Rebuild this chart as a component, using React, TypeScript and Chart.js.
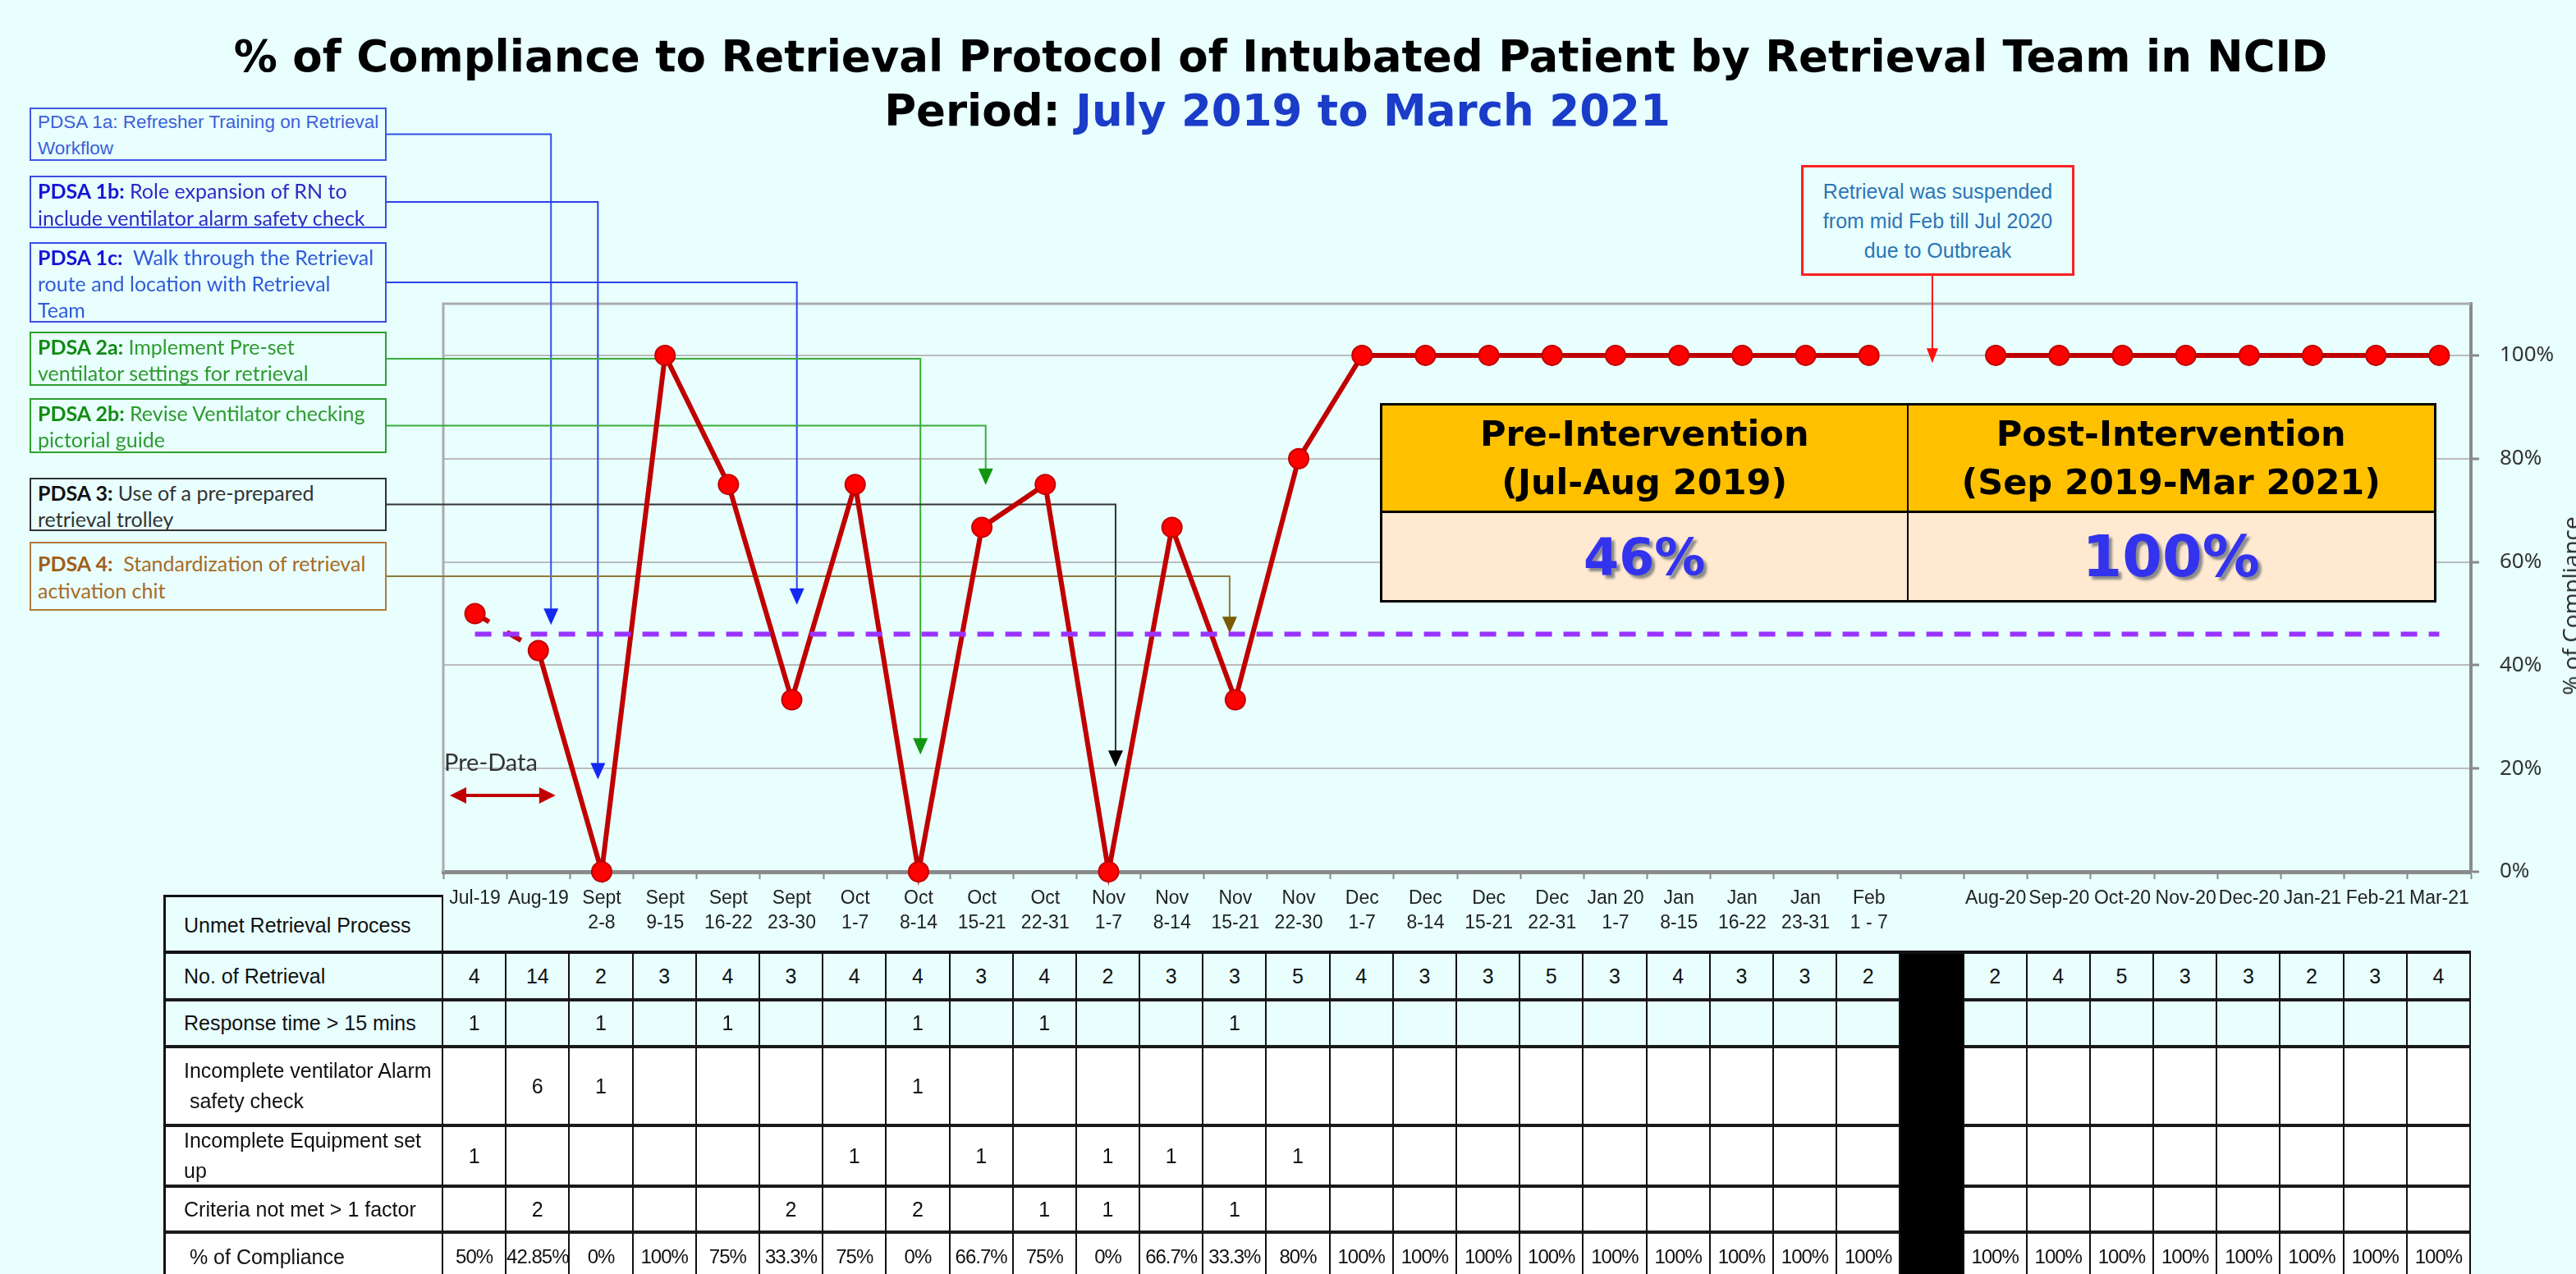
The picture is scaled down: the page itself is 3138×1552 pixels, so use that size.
import React, { useEffect, useRef } from 'react';
import { Chart, registerables } from 'chart.js';

Chart.register(...registerables);

const W = 3138;
const H = 1552;
const BG = '#E8FFFE';
const PLOT_LEFT = 540;
const PLOT_TOP = 370;
const PLOT_BOTTOM = 1062;
const Y_AXIS_W = 128;

const X_LABELS: string[][] = [
  ['Jul-19'], ['Aug-19'], ['Sept', '2-8'], ['Sept', '9-15'], ['Sept', '16-22'], ['Sept', '23-30'],
  ['Oct', '1-7'], ['Oct', '8-14'], ['Oct', '15-21'], ['Oct', '22-31'],
  ['Nov', '1-7'], ['Nov', '8-14'], ['Nov', '15-21'], ['Nov', '22-30'],
  ['Dec', '1-7'], ['Dec', '8-14'], ['Dec', '15-21'], ['Dec', '22-31'],
  ['Jan 20', '1-7'], ['Jan', '8-15'], ['Jan', '16-22'], ['Jan', '23-31'], ['Feb', '1 - 7'],
  [''],
  ['Aug-20'], ['Sep-20'], ['Oct-20'], ['Nov-20'], ['Dec-20'], ['Jan-21'], ['Feb-21'], ['Mar-21'],
];
const GAP_INDEX = 23;

const COMPLIANCE: (number | null)[] = [
  50, 42.85, 0, 100, 75, 33.3, 75, 0, 66.7, 75, 0, 66.7, 33.3, 80,
  100, 100, 100, 100, 100, 100, 100, 100, 100,
  null,
  100, 100, 100, 100, 100, 100, 100, 100,
];
const PRE_MEAN = 46;
const PRE_LABEL = '46%';
const POST_LABEL = '100%';
const Y_MAX_LABELLED = 100;

const NO_OF_RETRIEVAL = [4, 14, 2, 3, 4, 3, 4, 4, 3, 4, 2, 3, 3, 5, 4, 3, 3, 5, 3, 4, 3, 3, 2, null, 2, 4, 5, 3, 3, 2, 3, 4];
const RESPONSE_GT15 = [1, null, 1, null, 1, null, null, 1, null, 1, null, null, 1, null, null, null, null, null, null, null, null, null, null, null, null, null, null, null, null, null, null, null];
const VENT_ALARM = [null, 6, 1, null, null, null, null, 1, null, null, null, null, null, null, null, null, null, null, null, null, null, null, null, null, null, null, null, null, null, null, null, null];
const EQUIPMENT = [1, null, null, null, null, null, 1, null, 1, null, 1, 1, null, 1, null, null, null, null, null, null, null, null, null, null, null, null, null, null, null, null, null, null];
const CRITERIA_GT1 = [null, 2, null, null, null, 2, null, 2, null, 1, 1, null, 1, null, null, null, null, null, null, null, null, null, null, null, null, null, null, null, null, null, null, null];

const PDSA_NOTES = [
  { id: '1a', head: 'PDSA 1a:', bold: false, lines: [' Refresher Training on Retrieval', 'Workflow'], top: 131, height: 65, border: '#4058E0', headColor: '#3D5FD9', color: '#3D5FD9', font: "'Liberation Sans', Arial, sans-serif", size: 22.5, lh: 32, padTop: 0, at: 1.2, tip: 47.8, line: '#3050E8', arrow: '#1428F0' },
  { id: '1b', head: 'PDSA 1b:', bold: true, lines: [' Role expansion of RN to', 'include ventilator alarm safety check'], top: 214, height: 64, border: '#3B4FE0', headColor: '#1414D4', color: '#2B2BC4', font: 'Lato, sans-serif', size: 25, lh: 33, padTop: 0, at: 1.94, tip: 17.9, line: '#2C40EE', arrow: '#1428F0' },
  { id: '1c', head: 'PDSA 1c:', bold: true, lines: ['  Walk through the Retrieval', 'route and location with Retrieval', 'Team'], top: 295, height: 98, border: '#3B4FE0', headColor: '#1414D4', color: '#2F5BD6', font: 'Lato, sans-serif', size: 25, lh: 32, padTop: 0, at: 5.08, tip: 51.7, line: '#2C40EE', arrow: '#1428F0' },
  { id: '2a', head: 'PDSA 2a:', bold: true, lines: [' Implement Pre-set', 'ventilator settings for retrieval'], top: 404, height: 66, border: '#2EA02E', headColor: '#128A12', color: '#2E9A2E', font: 'Lato, sans-serif', size: 25, lh: 32, padTop: 0, at: 7.03, tip: 22.7, line: '#3AAA3A', arrow: '#109610' },
  { id: '2b', head: 'PDSA 2b:', bold: true, lines: [' Revise Ventilator checking', 'pictorial guide'], top: 485, height: 67, border: '#2EA02E', headColor: '#128A12', color: '#2E9A2E', font: 'Lato, sans-serif', size: 25, lh: 32, padTop: 0, at: 8.06, tip: 74.9, line: '#3AAA3A', arrow: '#109610' },
  { id: '3', head: 'PDSA 3:', bold: true, lines: [' Use of a pre-prepared', 'retrieval trolley'], top: 582, height: 65, border: '#333333', headColor: '#111111', color: '#333333', font: 'Lato, sans-serif', size: 25, lh: 32, padTop: 0, at: 10.11, tip: 20.3, line: '#333333', arrow: '#000000' },
  { id: '4', head: 'PDSA 4:', bold: true, lines: ['  Standardization of retrieval', 'activation chit'], top: 660, height: 84, border: '#B07A3A', headColor: '#A05E18', color: '#A86A24', font: 'Lato, sans-serif', size: 25, lh: 33, padTop: 8, at: 11.91, tip: 46.2, line: '#8C7A3A', arrow: '#7A5A00' },
];
const BOX_LEFT = 36;
const BOX_W = 435;

const SUSPEND_BOX = { left: 2194, top: 201, width: 333, height: 135 };

const overlayPlugin = {
  id: 'overlays',
  beforeDatasetsDraw(chart: any) {
    const { ctx, chartArea: a, scales } = chart;
    const xs = scales.x;
    const ys = scales.y;
    ctx.save();
    // frame
    ctx.strokeStyle = '#ABABAB';
    ctx.lineWidth = 3;
    ctx.beginPath();
    ctx.moveTo(a.left, a.bottom);
    ctx.lineTo(a.left, a.top);
    ctx.lineTo(a.right, a.top);
    ctx.stroke();

    // PDSA connectors
    for (const p of PDSA_NOTES) {
      const px = xs.getPixelForValue(p.at);
      const py = ys.getPixelForValue(p.tip);
      const sy = p.top + p.height / 2;
      ctx.strokeStyle = p.line;
      ctx.lineWidth = 2;
      ctx.beginPath();
      ctx.moveTo(BOX_LEFT + BOX_W, sy);
      ctx.lineTo(px, sy);
      ctx.lineTo(px, py - 18);
      ctx.stroke();
      ctx.fillStyle = p.arrow;
      ctx.beginPath();
      ctx.moveTo(px - 9, py - 20);
      ctx.lineTo(px + 9, py - 20);
      ctx.lineTo(px, py);
      ctx.closePath();
      ctx.fill();
    }

    // suspension arrow
    const gx = xs.getPixelForValue(GAP_INDEX);
    const gy = ys.getPixelForValue(98.5);
    ctx.strokeStyle = '#FF1010';
    ctx.lineWidth = 2;
    ctx.beginPath();
    ctx.moveTo(gx, SUSPEND_BOX.top + SUSPEND_BOX.height);
    ctx.lineTo(gx, gy - 16);
    ctx.stroke();
    ctx.fillStyle = '#FF1010';
    ctx.beginPath();
    ctx.moveTo(gx - 7, gy - 18);
    ctx.lineTo(gx + 7, gy - 18);
    ctx.lineTo(gx, gy);
    ctx.closePath();
    ctx.fill();

    // pre-data double arrow
    const ay = ys.getPixelForValue(14.8);
    const x1 = a.left + 8;
    const x2 = xs.getPixelForValue(1) + 21;
    ctx.strokeStyle = '#C00000';
    ctx.fillStyle = '#C00000';
    ctx.lineWidth = 4;
    ctx.beginPath();
    ctx.moveTo(x1 + 14, ay);
    ctx.lineTo(x2 - 14, ay);
    ctx.stroke();
    ctx.beginPath();
    ctx.moveTo(x1, ay);
    ctx.lineTo(x1 + 20, ay - 10);
    ctx.lineTo(x1 + 20, ay + 10);
    ctx.closePath();
    ctx.fill();
    ctx.beginPath();
    ctx.moveTo(x2, ay);
    ctx.lineTo(x2 - 20, ay - 10);
    ctx.lineTo(x2 - 20, ay + 10);
    ctx.closePath();
    ctx.fill();
    ctx.restore();
  },
};

const TABLE_ROWS = [
  { label: ['No. of Retrieval'], values: NO_OF_RETRIEVAL.map((v) => (v == null ? '' : String(v))), height: 58, bg: BG, size: 25, ls: 0 },
  { label: ['Response time > 15 mins'], values: RESPONSE_GT15.map((v) => (v == null ? '' : String(v))), height: 57, bg: BG, size: 25, ls: 0 },
  { label: ['Incomplete ventilator Alarm', ' safety check'], values: VENT_ALARM.map((v) => (v == null ? '' : String(v))), height: 96, bg: '#FFFFFF', size: 25, ls: 0 },
  { label: ['Incomplete Equipment set', 'up'], values: EQUIPMENT.map((v) => (v == null ? '' : String(v))), height: 74, bg: '#FFFFFF', size: 25, ls: 0 },
  { label: ['Criteria not met > 1 factor'], values: CRITERIA_GT1.map((v) => (v == null ? '' : String(v))), height: 56, bg: '#FFFFFF', size: 25, ls: 0 },
  { label: [' % of Compliance'], values: COMPLIANCE.map((v) => (v == null ? '' : `${v}%`)), height: 60, bg: '#FFFFFF', size: 24, ls: -1 },
];

const NARROW = "'Liberation Sans', Arial, sans-serif";
const BOLDWIDE = "'DejaVu Sans', Verdana, sans-serif";

export default function App() {
  const ref = useRef<HTMLCanvasElement>(null);

  useEffect(() => {
    const canvas = ref.current;
    if (!canvas) return;
    const chart = new Chart(canvas, {
      type: 'line',
      data: {
        labels: X_LABELS as any,
        datasets: [
          {
            label: 'Pre-intervention mean',
            data: X_LABELS.map(() => PRE_MEAN),
            borderColor: '#9933FF',
            borderWidth: 6,
            borderDash: [20, 14],
            pointRadius: 0,
            fill: false,
            order: 0,
            clip: false as any,
          },
          {
            label: '% of Compliance',
            data: COMPLIANCE,
            borderColor: '#C00000',
            borderWidth: 6,
            pointRadius: 12,
            pointBackgroundColor: '#FF0000',
            pointBorderColor: '#C00000',
            pointBorderWidth: 2,
            spanGaps: false,
            fill: false,
            order: 1,
            clip: false as any,
            segment: {
              borderDash: (ctx: any) => (ctx.p0DataIndex === 0 ? [20, 25] : undefined),
            },
          },
        ],
      },
      options: {
        responsive: false,
        animation: false,
        devicePixelRatio: 1,
        layout: { padding: { left: PLOT_LEFT, top: PLOT_TOP, right: 0, bottom: 0 } },
        plugins: {
          legend: { display: false },
          tooltip: { enabled: false },
          title: { display: false },
        },
        scales: {
          x: {
            type: 'category',
            offset: true,
            grid: { drawOnChartArea: false, tickLength: 9, tickColor: '#888888', tickWidth: 2, offset: true },
            border: { color: '#8A8A8A', width: 5 },
            ticks: {
              autoSkip: false,
              maxRotation: 0,
              minRotation: 0,
              color: '#222222',
              padding: 9,
              font: { family: NARROW, size: 23, lineHeight: 1.3 },
            },
            afterFit: (s: any) => {
              s.height = H - PLOT_BOTTOM;
            },
          },
          y: {
            position: 'right',
            min: 0,
            max: 110,
            bounds: 'data',
            ticks: {
              stepSize: 20,
              includeBounds: false,
              color: '#333333',
              padding: 25,
              font: { family: "'Noto Sans', sans-serif", size: 26 },
              callback: (v: any) => (v <= Y_MAX_LABELLED ? `${v}%` : ''),
            },
            grid: {
              color: '#BBBBBB',
              lineWidth: 2,
              tickLength: 10,
              tickWidth: 3,
              tickColor: (c: any) => (c.tick && c.tick.value > Y_MAX_LABELLED ? 'rgba(0,0,0,0)' : '#888888'),
            },
            border: { color: '#8A8A8A', width: 4 },
            afterFit: (s: any) => {
              s.width = Y_AXIS_W;
            },
          },
        },
      } as any,
      plugins: [overlayPlugin],
    });
    return () => chart.destroy();
  }, []);

  const plotRight = W - Y_AXIS_W;
  const cw = (plotRight - PLOT_LEFT) / X_LABELS.length;
  const labelColW = PLOT_LEFT - 202;

  return (
    <div style={{ position: 'absolute', left: 0, top: 0, width: W, height: H, overflow: 'hidden', background: BG }}>
      <canvas ref={ref} width={W} height={H} style={{ position: 'absolute', left: 0, top: 0, width: W, height: H }} />

      {/* Title */}
      <div style={{ position: 'absolute', left: 0, width: 3120, top: 37, textAlign: 'center', fontFamily: BOLDWIDE, fontWeight: 'bold', fontSize: 53, lineHeight: '64px', color: '#000', whiteSpace: 'nowrap' }}>
        % of Compliance to Retrieval Protocol of Intubated Patient by Retrieval Team in NCID
      </div>
      <div style={{ position: 'absolute', left: 0, width: 3112, top: 103, textAlign: 'center', fontFamily: BOLDWIDE, fontWeight: 'bold', fontSize: 53, lineHeight: '64px', color: '#000', whiteSpace: 'nowrap' }}>
        Period: <span style={{ color: '#1A3CC8' }}>July 2019 to March 2021</span>
      </div>

      {/* PDSA notes */}
      {PDSA_NOTES.map((p) => (
        <div
          key={p.id}
          style={{
            position: 'absolute', left: BOX_LEFT, top: p.top, width: BOX_W, height: p.height, boxSizing: 'border-box',
            border: `2px solid ${p.border}`, padding: `${p.padTop}px 0 0 8px`, fontFamily: p.font, fontSize: p.size,
            lineHeight: `${p.lh}px`, color: p.color, background: BG, overflow: 'hidden',
          }}
        >
          {p.lines.map((ln, i) => (
            <div key={i} style={{ whiteSpace: 'pre' }}>
              {i === 0 ? <span style={{ fontWeight: p.bold ? 'bold' : 'normal', color: p.headColor }}>{p.head}</span> : null}
              {ln}
            </div>
          ))}
        </div>
      ))}

      {/* Suspension note */}
      <div style={{ position: 'absolute', left: SUSPEND_BOX.left, top: SUSPEND_BOX.top, width: SUSPEND_BOX.width, height: SUSPEND_BOX.height, boxSizing: 'border-box', border: '3px solid #FF2020', background: BG, display: 'flex', flexDirection: 'column', justifyContent: 'center', alignItems: 'center', fontFamily: NARROW, fontSize: 25, lineHeight: '36px', color: '#2E75B6' }}>
        <div>Retrieval was suspended</div>
        <div>from mid Feb till Jul 2020</div>
        <div>due to Outbreak</div>
      </div>

      {/* Pre-Data */}
      <div style={{ position: 'absolute', left: 541, top: 910, fontFamily: 'Lato, sans-serif', fontSize: 29, color: '#333', lineHeight: '36px' }}>Pre-Data</div>

      {/* Intervention summary */}
      <div style={{ position: 'absolute', left: 1681, top: 491, width: 1287, height: 243, boxSizing: 'border-box', border: '3px solid #000', display: 'grid', gridTemplateColumns: '1fr 1fr', gridTemplateRows: '131px 1fr' }}>
        <div style={{ background: '#FFC000', borderRight: '2px solid #000', borderBottom: '3px solid #000', display: 'flex', flexDirection: 'column', justifyContent: 'center', alignItems: 'center', fontFamily: BOLDWIDE, fontWeight: 'bold', fontSize: 43, lineHeight: '59px', color: '#000' }}>
          <div>Pre-Intervention</div>
          <div>(Jul-Aug 2019)</div>
        </div>
        <div style={{ background: '#FFC000', borderBottom: '3px solid #000', display: 'flex', flexDirection: 'column', justifyContent: 'center', alignItems: 'center', fontFamily: BOLDWIDE, fontWeight: 'bold', fontSize: 43, lineHeight: '59px', color: '#000' }}>
          <div>Post-Intervention</div>
          <div>(Sep 2019-Mar 2021)</div>
        </div>
        <div style={{ background: '#FFE9D0', borderRight: '2px solid #000', display: 'flex', justifyContent: 'center', alignItems: 'center', fontFamily: BOLDWIDE, fontWeight: 'bold', fontSize: 62, color: '#3333EE', textShadow: '4px 4px 3px #8A8A8A' }}>
          {PRE_LABEL}
        </div>
        <div style={{ background: '#FFE9D0', display: 'flex', justifyContent: 'center', alignItems: 'center', fontFamily: BOLDWIDE, fontWeight: 'bold', fontSize: 70, color: '#3333EE', textShadow: '4px 4px 3px #8A8A8A' }}>
          {POST_LABEL}
        </div>
      </div>

      {/* Y axis title */}
      <div style={{ position: 'absolute', left: 3131, top: 738, transform: 'translate(-50%, -50%) rotate(-90deg)', whiteSpace: 'nowrap', fontFamily: "'Open Sans', sans-serif", fontSize: 28, color: '#222', lineHeight: '32px' }}>
        % of Compliance
      </div>

      {/* Data table header cell */}
      <div style={{ position: 'absolute', left: 199, top: 1090, width: labelColW + 3, height: 72, boxSizing: 'border-box', borderTop: '3px solid #111', borderLeft: '3px solid #111', borderRight: '2px solid #111', background: BG, display: 'flex', alignItems: 'center', paddingLeft: 22, fontFamily: NARROW, fontSize: 25, color: '#111' }}>
        Unmet Retrieval Process
      </div>

      {/* Data table */}
      <div style={{ position: 'absolute', left: 199, top: 1158, boxSizing: 'content-box', borderLeft: '3px solid #111', borderTop: '4px solid #111', display: 'grid', gridTemplateColumns: `${labelColW}px repeat(${X_LABELS.length}, ${cw}px)`, gridTemplateRows: TABLE_ROWS.map((r) => `${r.height}px`).join(' '), fontFamily: NARROW, color: '#111' }}>
        {TABLE_ROWS.map((r, ri) => (
          <React.Fragment key={ri}>
            <div style={{ boxSizing: 'border-box', background: r.bg, borderRight: '2px solid #111', borderBottom: '4px solid #1A1A1A', display: 'flex', flexDirection: 'column', justifyContent: 'center', paddingLeft: 22, fontSize: 25, lineHeight: '37px', whiteSpace: 'pre' }}>
              {r.label.map((l, li) => (
                <div key={li}>{l}</div>
              ))}
            </div>
            {r.values.map((v, ci) => (
              <div key={ci} style={{ boxSizing: 'border-box', background: ci === GAP_INDEX ? '#000' : r.bg, borderRight: '2px solid #111', borderBottom: ci === GAP_INDEX ? 'none' : '4px solid #1A1A1A', display: 'flex', justifyContent: 'center', alignItems: 'center', fontSize: r.size, letterSpacing: r.ls, whiteSpace: 'nowrap', overflow: 'hidden' }}>
                {v}
              </div>
            ))}
          </React.Fragment>
        ))}
      </div>
    </div>
  );
}
